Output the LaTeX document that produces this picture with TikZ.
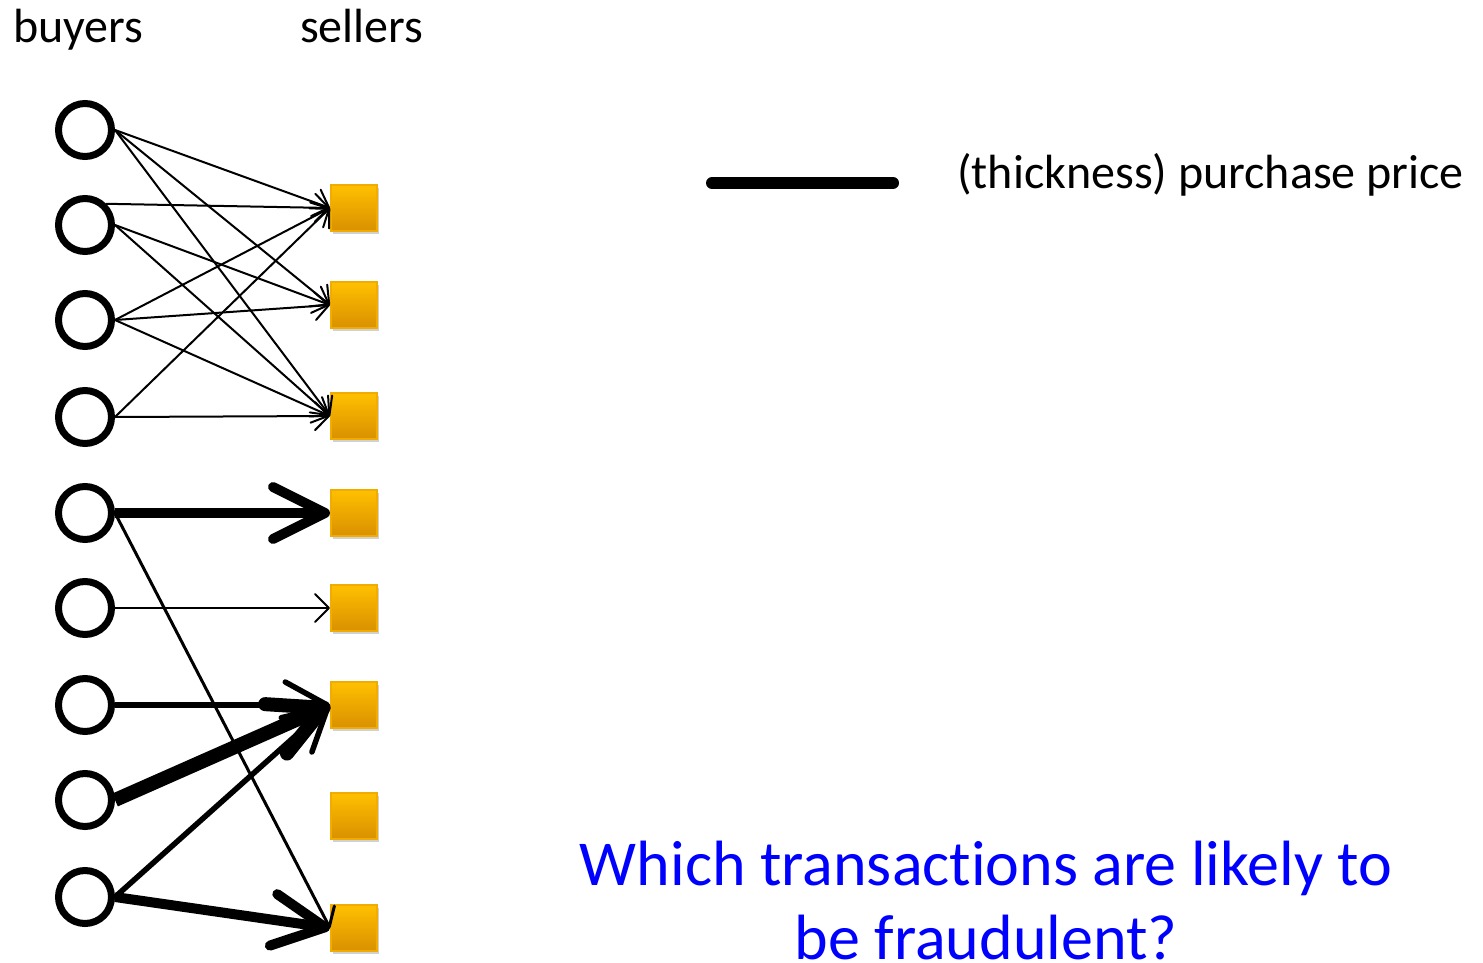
\documentclass[tikz,border=0pt]{standalone}
\usepackage{fontspec}
\setmainfont[Ligatures=NoCommon]{Carlito}
\usetikzlibrary{arrows.meta,shadows}
\definecolor{orangeT}{HTML}{FFC000}
\definecolor{orangeB}{HTML}{D99000}
\definecolor{orangeE}{HTML}{F2AC00}
\definecolor{qblue}{HTML}{0000FF}
\begin{document}
\begin{tikzpicture}[x=1pt,y=-1pt,
  buyer/.style={circle,draw=black,line width=7pt,minimum size=53pt,inner sep=0pt,fill=white},
  seller/.style={rectangle,draw=orangeE,line width=2pt,minimum size=46pt,inner sep=0pt,
    top color=orangeT,bottom color=orangeB,
    drop shadow={shadow xshift=2pt,shadow yshift=-3pt,opacity=0.3,fill=black!60}},
  lbl/.style={inner sep=0pt,font=\fontsize{48}{54}\selectfont},
  ethin/.style={line width=2pt,-{Straight Barb[length=14pt,width=28pt,round]}},
  emid/.style={line width=3pt,-{Straight Barb[length=16pt,width=28pt,round]}},
  emed/.style={line width=5.5pt,-{Straight Barb[length=42pt,width=46pt,round]}},
  ethick/.style={line width=10pt,-{Straight Barb[length=52pt,width=52pt,round]}},
  ebig/.style={line width=14pt,-{Straight Barb[length=52pt,width=54pt,round]}},
  legend/.style={line width=12pt,line cap=round},
]
\useasboundingbox (0,0) rectangle (1483,963);
% labels
\node[lbl,anchor=base west] (tb) at (13,43) {buyers};
\node[lbl,anchor=base west] (ts) at (300,43) {sellers};
% buyers
\foreach \i/\y in {1/130,2/225,3/320,4/417,5/513,6/608,7/705,8/800,9/897}
  \node[buyer] (b\i) at (85,\y) {};
% sellers
\foreach \i/\y in {1/208,2/305,3/416,4/513,5/608,6/705,7/816,8/928}
  \node[seller] (s\i) at (354,\y) {};
% thin edges
\draw[ethin] (b1.east) -- (s1.west);
\draw[ethin] (b1.east) -- (s2.west);
\draw[ethin] (b1.east) -- (s3.west);
\draw[ethin] (b2.north east) -- (s1.west);
\draw[ethin] (b2.east) -- (s2.west);
\draw[ethin] (b2.east) -- (s3.west);
\draw[ethin] (b3.east) -- (s1.west);
\draw[ethin] (b3.east) -- (s2.west);
\draw[ethin] (b3.east) -- (s3.west);
\draw[ethin] (b4.east) -- (s1.west);
\draw[ethin] (b4.east) -- (s3.west);
\draw[ethin] (b6.east) -- (s5.west);
% heavier edges
\draw[emid] (b5.east) -- (s8.west);
\draw[ethick] (b5.east) -- (s4.west);
\draw[emed] (b7.east) -- (s6.west);
\draw[ebig] (b8.east) -- (s6.west);
\draw[emed] (b9.east) -- (s6.west);
\draw[ethick] (b9.east) -- (s8.west);
% legend
\coordinate (l1) at (712,183);
\coordinate (l2) at (893,183);
\draw[legend] (l1) -- (l2);
\node[lbl,anchor=base west] (lt) at (957,188) {(thickness) purchase price};
% question
\node[inner sep=0pt,anchor=base,text=qblue,font=\fontsize{64}{72}\selectfont] (q1) at (986,885) {Which transactions are likely to};
\node[inner sep=0pt,anchor=base,text=qblue,font=\fontsize{64}{72}\selectfont] (q2) at (986,959) {be fraudulent?};
\end{tikzpicture}
\end{document}
